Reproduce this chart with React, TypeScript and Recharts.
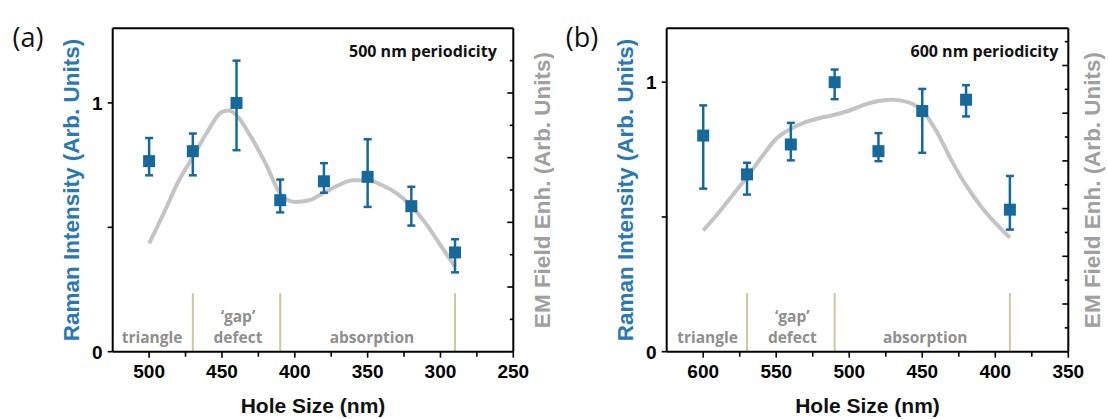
import React from "react";
import { ComposedChart, Line, Scatter, ErrorBar, XAxis, YAxis, ReferenceLine } from "recharts";

const BLUE = "#17699c";
const TITLE_BLUE = "#2a79b0";
const GREY_TITLE = "#a0a0a0";
const GREY_TEXT = "#8f8f8f";
const FIT_GREY = "#c4c4c4";
const OLIVE = "#cdc89f";
const AXIS_FONT = "'Liberation Sans', Arial, sans-serif";
const NOTE_FONT = "'Open Sans', 'Noto Sans', sans-serif";

// (a) 500 nm periodicity
const holeA = [500, 470, 440, 410, 380, 350, 320, 290];
const ramanA = [0.766, 0.806, 1.0, 0.609, 0.685, 0.703, 0.585, 0.399];
const errUpA = [0.093, 0.071, 0.17, 0.083, 0.073, 0.151, 0.078, 0.053];
const errDownA = [0.057, 0.097, 0.19, 0.049, 0.046, 0.121, 0.078, 0.08];
const fitHoleA = [500, 490, 480, 470, 460, 450, 445, 440, 430, 420, 410, 400, 390, 380, 370, 360, 350, 340, 330, 320, 310, 300, 290];
const fitA = [0.435, 0.556, 0.683, 0.783, 0.884, 0.964, 0.97, 0.95, 0.863, 0.756, 0.636, 0.602, 0.609, 0.639, 0.669, 0.689, 0.689, 0.669, 0.636, 0.585, 0.515, 0.428, 0.341];
const xTicksA = [500, 475, 450, 425, 400, 375, 350, 325, 300, 275, 250];
const edgesA = [470, 410, 290];
const regionCentersA = [498, 439, 347];

// (b) 600 nm periodicity
const holeB = [600, 570, 540, 510, 480, 450, 420, 390];
const ramanB = [0.802, 0.658, 0.769, 1.0, 0.744, 0.893, 0.935, 0.527];
const errUpB = [0.112, 0.043, 0.08, 0.047, 0.067, 0.082, 0.054, 0.125];
const errDownB = [0.197, 0.075, 0.059, 0.063, 0.037, 0.155, 0.062, 0.074];
const fitHoleB = [600, 590, 580, 570, 560, 550, 540, 530, 520, 510, 500, 490, 480, 470, 460, 450, 440, 430, 420, 410, 400, 390];
const fitB = [0.45, 0.512, 0.58, 0.648, 0.722, 0.79, 0.827, 0.852, 0.867, 0.879, 0.895, 0.916, 0.93, 0.935, 0.926, 0.895, 0.815, 0.71, 0.617, 0.541, 0.478, 0.423];
const xTicksB = [600, 575, 550, 525, 500, 475, 450, 425, 400, 375, 350];
const edgesB = [570, 510, 390];
const regionCentersB = [597, 539, 448];

const regionNames = [["triangle"], ["\u2018gap\u2019", "defect"], ["absorption"]];
const ramanTicks = [0, 0.5, 1];

const panelA = {
  letter: "(a)",
  periodicity: "500 nm periodicity",
  hole: holeA, raman: ramanA, errUp: errUpA, errDown: errDownA,
  fitHole: fitHoleA, fit: fitA,
  xDomain: [250, 525], xTicks: xTicksA,
  yMax: 1.3, emMax: 10, emTicks: [1, 2, 3, 4, 5, 6, 7, 8, 9],
  edges: edgesA, edgeTop: 0.235, regionCenters: regionCentersA,
  plotR: 513.3, noteInset: 16.5, emTitleGap: 29,
};

const panelB = {
  letter: "(b)",
  periodicity: "600 nm periodicity",
  hole: holeB, raman: ramanB, errUp: errUpB, errDown: errDownB,
  fitHole: fitHoleB, fit: fitB,
  xDomain: [350, 625], xTicks: xTicksB,
  yMax: 1.2, emMax: 13.56, emTicks: [1, 2, 3, 4, 5, 6, 7, 8, 9, 10, 11, 12, 13],
  edges: edgesB, edgeTop: 0.218, regionCenters: regionCentersB,
  plotR: 514.3, noteInset: 10, emTitleGap: 24,
};

const W = 554;
const H = 419;
const PLOT_L = 112.7;
const PLOT_T = 28.3;
const PLOT_B = 351.7;
const LEFT_W = 60;
const RIGHT_W = 36;
const X_H = 60;

const xTick = (props: any) => {
  const { x, y, payload } = props;
  const major = payload.value % 50 === 0;
  return (
    <g>
      <line x1={x} x2={x} y1={y} y2={y + (major ? 6 : 5)} stroke="#000" strokeWidth={1.6} />
      {major && (
        <text x={x} y={y + 26} textAnchor="middle" fontFamily={AXIS_FONT} fontWeight="bold" fontSize={19} fill="#000">
          {payload.value}
        </text>
      )}
    </g>
  );
};

const ramanTick = (props: any) => {
  const { x, y, payload } = props;
  const v = payload.value;
  return (
    <g>
      <line x1={x - 5} x2={x} y1={y} y2={y} stroke="#000" strokeWidth={1.6} />
      {v !== 0.5 && (
        <text x={x - 10} y={y + 7} textAnchor="end" fontFamily={AXIS_FONT} fontWeight="bold" fontSize={19} fill="#000">
          {v}
        </text>
      )}
    </g>
  );
};

const emTick = (props: any) => {
  const { x, y, payload } = props;
  const len = payload.value % 2 === 0 ? 6 : 3.5;
  return <line x1={x - len} x2={x} y1={y} y2={y} stroke="#000" strokeWidth={1.6} />;
};

const square = (props: any) => {
  const { cx, cy } = props;
  return <rect x={cx - 6} y={cy - 6} width={12} height={12} fill={BLUE} />;
};

const regionText = (props: any) => {
  const { cx, cy, payload } = props;
  const lines: string[] = payload.lines;
  return (
    <g>
      {lines.map((t, i) => (
        <text
          key={t}
          x={cx}
          y={cy - 9 - (lines.length - 1 - i) * 21}
          textAnchor="middle"
          fontFamily={NOTE_FONT}
          fontWeight="bold"
          fontSize={15.5}
          fill={GREY_TEXT}
        >
          {t}
        </text>
      ))}
    </g>
  );
};

function RamanPanel({ p, left }: { p: any; left: number }) {
  const margin = {
    top: PLOT_T,
    left: PLOT_L - LEFT_W,
    right: W - p.plotR - RIGHT_W,
    bottom: H - PLOT_B - X_H,
  };
  const points = p.hole.map((x: number, i: number) => ({
    x,
    y: p.raman[i],
    err: [p.errDown[i], p.errUp[i]],
  }));
  const fit = p.fitHole.map((x: number, i: number) => ({ x, y: p.fit[i] }));
  const regions = p.regionCenters.map((x: number, i: number) => ({ x, y: 0, lines: regionNames[i] }));
  const midX = (PLOT_L + p.plotR) / 2;
  const midY = (PLOT_T + PLOT_B) / 2;

  return (
    <div style={{ position: "absolute", left, top: 0, width: W, height: H }}>
      <ComposedChart width={W} height={H} margin={margin}>
        <XAxis
          type="number"
          dataKey="x"
          domain={p.xDomain}
          reversed
          allowDataOverflow
          ticks={p.xTicks}
          interval={0}
          tickSize={0}
          tickMargin={0}
          tickLine={false}
          tick={xTick}
          height={X_H}
          axisLine={{ stroke: "#000", strokeWidth: 2 }}
        />
        <YAxis
          type="number"
          dataKey="y"
          domain={[0, p.yMax]}
          allowDataOverflow
          ticks={ramanTicks}
          interval={0}
          tickSize={0}
          tickMargin={0}
          tickLine={false}
          tick={ramanTick}
          width={LEFT_W}
          axisLine={{ stroke: "#000", strokeWidth: 2 }}
        />
        <YAxis
          yAxisId="em"
          orientation="right"
          type="number"
          domain={[0, p.emMax]}
          allowDataOverflow
          ticks={p.emTicks}
          interval={0}
          tickSize={0}
          tickMargin={0}
          tickLine={false}
          tick={emTick}
          width={RIGHT_W}
          axisLine={{ stroke: "#000", strokeWidth: 2 }}
        />
        <ReferenceLine y={p.yMax} stroke="#000" strokeWidth={2} />
        {p.edges.map((e: number) => (
          <ReferenceLine
            key={e}
            segment={[{ x: e, y: 0 }, { x: e, y: p.edgeTop }]}
            stroke={OLIVE}
            strokeWidth={2}
          />
        ))}
        <Scatter data={regions} dataKey="y" shape={regionText} isAnimationActive={false} />
        <Line
          data={fit}
          dataKey="y"
          type="monotone"
          stroke={FIT_GREY}
          strokeWidth={4}
          dot={false}
          activeDot={false}
          isAnimationActive={false}
        />
        <Scatter data={points} dataKey="y" shape={square} isAnimationActive={false}>
          <ErrorBar dataKey="err" direction="y" width={4} strokeWidth={2.5} stroke={BLUE} isAnimationActive={false} />
        </Scatter>
      </ComposedChart>
      <svg width={W} height={H} style={{ position: "absolute", left: 0, top: 0, pointerEvents: "none" }}>
        <text x={28} y={47} textAnchor="middle" fontFamily={NOTE_FONT} fontSize={27} fill="#111">
          {p.letter}
        </text>
        <text
          x={p.plotR - p.noteInset}
          y={57}
          textAnchor="end"
          fontFamily={NOTE_FONT}
          fontWeight="bold"
          fontSize={16}
          fill="#111"
        >
          {p.periodicity}
        </text>
        <text
          transform={`translate(71, ${midY}) rotate(-90)`}
          textAnchor="middle"
          dominantBaseline="central"
          fontFamily={AXIS_FONT}
          fontWeight="bold"
          fontSize={22.5}
          fill={TITLE_BLUE}
        >
          Raman Intensity (Arb. Units)
        </text>
        <text
          transform={`translate(${p.plotR + p.emTitleGap}, ${midY}) rotate(-90)`}
          textAnchor="middle"
          dominantBaseline="central"
          fontFamily={AXIS_FONT}
          fontWeight="bold"
          fontSize={22.5}
          fill={GREY_TITLE}
        >
          EM Field Enh. (Arb. Units)
        </text>
        <text x={midX} y={413} textAnchor="middle" fontFamily={AXIS_FONT} fontWeight="bold" fontSize={21} fill="#111">
          Hole Size (nm)
        </text>
      </svg>
    </div>
  );
}

export default function App() {
  return (
    <div style={{ position: "absolute", left: 0, top: 0, width: 1108, height: 419, background: "#fff" }}>
      <RamanPanel p={panelA} left={0} />
      <RamanPanel p={panelB} left={554} />
    </div>
  );
}
